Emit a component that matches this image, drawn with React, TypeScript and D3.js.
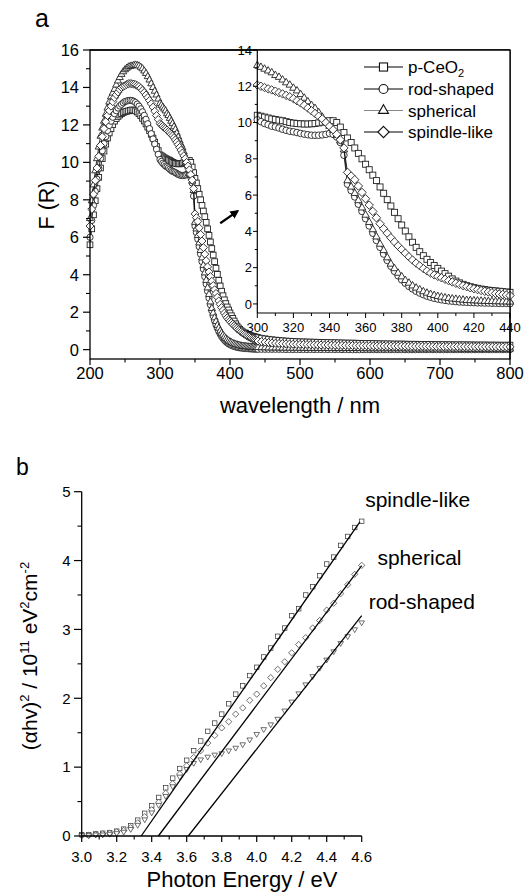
import React from 'react';
import * as d3 from 'd3';

// ---------- Panel a data (wavelength grid, nm) ----------
const WL_SHORT = d3.range(200, 300.1, 2.5); // 200..300
const WL_MID = d3.range(302, 441, 2); // 302..440
const WL_LONG = d3.range(445, 801, 5); // 445..800
const WAVELENGTH = [...WL_SHORT, ...WL_MID, ...WL_LONG];

const PCEO2_SHORT = [5.6, 6.45, 7.2, 7.95, 8.6, 9.2, 9.7, 10.2, 10.6, 10.97, 11.3, 11.57, 11.8, 12.02, 12.2, 12.34, 12.45, 12.53, 12.6, 12.66, 12.7, 12.73, 12.75, 12.78, 12.8, 12.79, 12.75, 12.69, 12.6, 12.49, 12.35, 12.21, 12.05, 11.88, 11.7, 11.5, 11.3, 11.08, 10.85, 10.63, 10.4];
const PCEO2_MID = [10.35, 10.3, 10.25, 10.2, 10.17, 10.13, 10.1, 10.05, 10.0, 9.97,
  9.95, 9.93, 9.92, 9.92, 9.93, 9.95, 9.98, 10.02, 10.06, 10.1,
  10.1, 10.0, 9.75, 9.45, 9.15, 8.9, 8.6, 8.3, 8.0, 7.7,
  7.4, 7.1, 6.8, 6.45, 6.1, 5.75, 5.4, 5.05, 4.7, 4.35,
  4.02, 3.7, 3.4, 3.12, 2.88, 2.66, 2.46, 2.28, 2.12, 1.96,
  1.81, 1.67, 1.53, 1.38, 1.26, 1.16, 1.08, 1.01, 0.95, 0.9,
  0.86, 0.82, 0.79, 0.76, 0.74, 0.72, 0.7, 0.68, 0.66, 0.64];
const PCEO2_LONG = [0.61, 0.58, 0.555, 0.53, 0.51, 0.49, 0.475, 0.46, 0.45, 0.44,
  0.43, 0.42, 0.415, 0.41, 0.405, 0.4, 0.395, 0.39, 0.385, 0.38,
  0.375, 0.37, 0.365, 0.36, 0.355, 0.35, 0.35, 0.345, 0.34, 0.335,
  0.33, 0.33, 0.325, 0.32, 0.315, 0.31, 0.31, 0.305, 0.3, 0.3,
  0.3, 0.295, 0.29, 0.29, 0.29, 0.285, 0.28, 0.28, 0.28, 0.275,
  0.27, 0.27, 0.27, 0.265, 0.265, 0.26, 0.26, 0.26, 0.26, 0.255,
  0.255, 0.25, 0.25, 0.25, 0.25, 0.245, 0.245, 0.245, 0.24, 0.24,
  0.24, 0.24];

const ROD_SHORT = [6.0, 6.9, 7.7, 8.45, 9.1, 9.68, 10.2, 10.62, 11.0, 11.37, 11.7, 11.97, 12.2, 12.41, 12.6, 12.76, 12.9, 13.01, 13.1, 13.18, 13.25, 13.28, 13.3, 13.31, 13.3, 13.26, 13.2, 13.11, 13.0, 12.86, 12.7, 12.51, 12.3, 12.06, 11.8, 11.53, 11.25, 10.98, 10.7, 10.43, 10.15];
const ROD_MID = [10.05, 9.95, 9.88, 9.8, 9.76, 9.7, 9.63, 9.57, 9.52, 9.49,
  9.45, 9.4, 9.36, 9.33, 9.3, 9.3, 9.3, 9.32, 9.35, 9.4,
  9.35, 9.2, 8.9, 8.2, 6.6, 6.25, 5.9, 5.5, 5.1, 4.7,
  4.3, 3.9, 3.5, 3.12, 2.75, 2.4, 2.08, 1.8, 1.55, 1.33,
  1.14, 0.97, 0.83, 0.7, 0.6, 0.51, 0.43, 0.37, 0.31, 0.27,
  0.23, 0.2, 0.17, 0.15, 0.13, 0.11, 0.1, 0.09, 0.08, 0.07,
  0.06, 0.06, 0.05, 0.05, 0.04, 0.04, 0.03, 0.03, 0.03, 0.02];
const ROD_LONG = [0.02, 0.02, 0.02, 0.02, 0.02, 0.02, 0.015, 0.01, 0.01, 0.01,
  0.01, 0.01, 0.01, 0.01, 0.01, 0.01, 0.01, 0.01, 0.01, 0.01,
  0.01, 0.01, 0.01, 0.005, 0.005, 0, 0, 0, 0, 0,
  0, 0, 0, 0, 0, 0, 0, 0, 0, 0,
  0, 0, 0, 0, 0, 0, 0, 0, 0, 0,
  0, 0, 0, 0, 0, 0, 0, 0, 0, 0,
  0, 0, 0, 0, 0, 0, 0, 0, 0, 0,
  0, 0];

const SPH_SHORT = [7.0, 7.95, 8.8, 9.55, 10.2, 10.82, 11.4, 11.83, 12.2, 12.57, 12.9, 13.22, 13.5, 13.7, 13.9, 14.13, 14.35, 14.53, 14.7, 14.84, 14.95, 15.03, 15.1, 15.13, 15.15, 15.18, 15.2, 15.18, 15.15, 15.08, 15.0, 14.88, 14.75, 14.58, 14.4, 14.2, 14.0, 13.8, 13.6, 13.38, 13.15];
const SPH_MID = [13.05, 12.95, 12.85, 12.75, 12.6, 12.5, 12.35, 12.2, 12.07, 11.9,
  11.75, 11.55, 11.35, 11.15, 10.95, 10.78, 10.55, 10.3, 10.05, 9.8,
  9.58, 9.3, 9.0, 8.5, 6.8, 6.45, 6.1, 5.7, 5.3, 4.9,
  4.5, 4.1, 3.7, 3.3, 2.95, 2.55, 2.2, 1.95, 1.7, 1.5,
  1.3, 1.15, 1.0, 0.88, 0.78, 0.68, 0.6, 0.53, 0.47, 0.42,
  0.38, 0.34, 0.31, 0.28, 0.26, 0.24, 0.22, 0.2, 0.19, 0.18,
  0.17, 0.16, 0.15, 0.14, 0.14, 0.13, 0.13, 0.12, 0.12, 0.11];
const SPH_LONG = [0.105, 0.1, 0.095, 0.09, 0.09, 0.09, 0.085, 0.08, 0.08, 0.08,
  0.08, 0.075, 0.075, 0.07, 0.07, 0.07, 0.07, 0.07, 0.07, 0.065,
  0.065, 0.06, 0.06, 0.06, 0.06, 0.06, 0.06, 0.06, 0.06, 0.055,
  0.055, 0.05, 0.05, 0.05, 0.05, 0.05, 0.05, 0.05, 0.05, 0.05,
  0.05, 0.045, 0.045, 0.04, 0.04, 0.04, 0.04, 0.04, 0.04, 0.04,
  0.04, 0.04, 0.04, 0.04, 0.04, 0.035, 0.035, 0.03, 0.03, 0.03,
  0.03, 0.03, 0.03, 0.03, 0.03, 0.03, 0.03, 0.03, 0.03, 0.03,
  0.03, 0.03];

const SPN_SHORT = [6.6, 7.5, 8.3, 9.03, 9.7, 10.32, 10.9, 11.37, 11.8, 12.17, 12.5, 12.76, 13.0, 13.24, 13.45, 13.61, 13.75, 13.89, 14.0, 14.06, 14.1, 14.16, 14.2, 14.21, 14.2, 14.18, 14.15, 14.1, 14.05, 13.96, 13.85, 13.73, 13.6, 13.46, 13.3, 13.13, 12.95, 12.73, 12.5, 12.29, 12.07];
const SPN_MID = [12.0, 11.93, 11.86, 11.8, 11.73, 11.65, 11.58, 11.5, 11.42, 11.32,
  11.2, 11.08, 10.95, 10.8, 10.65, 10.5, 10.35, 10.2, 10.0, 9.8,
  9.6, 9.35, 9.05, 8.6, 7.25, 7.05, 6.85, 6.5, 6.15, 5.8,
  5.45, 5.1, 4.75, 4.42, 4.15, 3.9, 3.65, 3.42, 3.2, 3.0,
  2.8, 2.6, 2.42, 2.25, 2.1, 1.95, 1.82, 1.7, 1.6, 1.52,
  1.44, 1.36, 1.28, 1.21, 1.14, 1.07, 1.01, 0.95, 0.89, 0.84,
  0.79, 0.74, 0.7, 0.66, 0.62, 0.58, 0.55, 0.52, 0.49, 0.46];
const SPN_LONG = [0.43, 0.4, 0.38, 0.36, 0.345, 0.33, 0.32, 0.31, 0.3, 0.29,
  0.285, 0.28, 0.275, 0.27, 0.265, 0.26, 0.255, 0.25, 0.25, 0.245,
  0.24, 0.235, 0.23, 0.23, 0.225, 0.22, 0.22, 0.215, 0.21, 0.21,
  0.21, 0.205, 0.2, 0.2, 0.2, 0.2, 0.195, 0.19, 0.19, 0.19,
  0.19, 0.185, 0.185, 0.18, 0.18, 0.18, 0.18, 0.175, 0.175, 0.175,
  0.17, 0.17, 0.17, 0.17, 0.17, 0.165, 0.165, 0.165, 0.16, 0.16,
  0.16, 0.16, 0.16, 0.155, 0.155, 0.155, 0.155, 0.15, 0.15, 0.15,
  0.15, 0.15];

const SERIES_A = [
  { name: 'p-CeO2', marker: 'square', lineColor: '#000', values: [...PCEO2_SHORT, ...PCEO2_MID, ...PCEO2_LONG] },
  { name: 'rod-shaped', marker: 'circle', lineColor: '#000', values: [...ROD_SHORT, ...ROD_MID, ...ROD_LONG] },
  { name: 'spherical', marker: 'triangle', lineColor: '#888', values: [...SPH_SHORT, ...SPH_MID, ...SPH_LONG] },
  { name: 'spindle-like', marker: 'diamond', lineColor: '#000', values: [...SPN_SHORT, ...SPN_MID, ...SPN_LONG] },
];

const A_XTICKS = [200, 300, 400, 500, 600, 700, 800];
const A_XMINOR = [250, 350, 450, 550, 650, 750];
const A_YTICKS = [0, 2, 4, 6, 8, 10, 12, 14, 16];
const A_YMINOR = [1, 3, 5, 7, 9, 11, 13, 15];
const IN_XTICKS = [300, 320, 340, 360, 380, 400, 420, 440];
const IN_XMINOR = [310, 330, 350, 370, 390, 410, 430];
const IN_YTICKS = [0, 2, 4, 6, 8, 10, 12, 14];
const IN_YMINOR = [1, 3, 5, 7, 9, 11, 13];
const ARROW = { from: [386, 6.75], to: [411, 7.4] };

// ---------- Panel b data (photon energy grid, eV) ----------
const ENERGY = d3.range(0, 41).map((i) => 3 + i * 0.04);
const SPN_B = [0.02, 0.02, 0.03, 0.04, 0.05, 0.07, 0.1, 0.15, 0.23, 0.33,
  0.44, 0.56, 0.7, 0.84, 0.98, 1.1, 1.24, 1.38, 1.52, 1.64,
  1.77, 1.92, 2.06, 2.18, 2.33, 2.45, 2.6, 2.73, 2.9, 3.02,
  3.2, 3.3, 3.5, 3.62, 3.78, 3.95, 4.05, 4.22, 4.35, 4.48, 4.57];
const SPH_B = [0.01, 0.01, 0.02, 0.03, 0.04, 0.06, 0.08, 0.12, 0.19, 0.28,
  0.38, 0.49, 0.62, 0.76, 0.9, 1.02, 1.14, 1.24, 1.35, 1.46,
  1.57, 1.66, 1.77, 1.86, 1.97, 2.06, 2.18, 2.3, 2.42, 2.53,
  2.66, 2.78, 2.88, 3.02, 3.13, 3.28, 3.38, 3.52, 3.65, 3.8, 3.93];
const ROD_B = [0.01, 0.01, 0.02, 0.02, 0.03, 0.04, 0.06, 0.1, 0.16, 0.24,
  0.34, 0.45, 0.58, 0.72, 0.86, 0.97, 1.06, 1.11, 1.15, 1.18,
  1.2, 1.24, 1.28, 1.33, 1.4, 1.48, 1.55, 1.62, 1.7, 1.82,
  1.95, 2.07, 2.2, 2.32, 2.44, 2.56, 2.68, 2.8, 2.9, 3.0, 3.1];
const B_NAMES = ['spindle-like', 'spherical', 'rod-shaped'];
const B_MARKERS = ['square', 'diamond', 'triangleDown'];
const B_VALUES = [SPN_B, SPH_B, ROD_B];
const FIT_ONSET = [3.34, 3.438, 3.609];
const FIT_SLOPE = [3.65, 3.38, 3.23];
const FIT_END = [4.59, 4.6, 4.6];
const B_LABEL_POS = [[4.62, 4.78], [4.69, 3.94], [4.64, 3.29]];
const B_XTICKS = [3.0, 3.2, 3.4, 3.6, 3.8, 4.0, 4.2, 4.4, 4.6];
const B_XMINOR = [3.1, 3.3, 3.5, 3.7, 3.9, 4.1, 4.3, 4.5];
const B_YTICKS = [0, 1, 2, 3, 4, 5];
const B_YMINOR = [0.5, 1.5, 2.5, 3.5, 4.5];

const FONT = 'Liberation Sans, Arial, Helvetica, sans-serif';

function Marker({ type, x, y, s = 1, stroke = '#222', sw = 0.9, fill = '#fff' }) {
  const common = { stroke, strokeWidth: sw, fill };
  if (type === 'square') {
    const h = 3 * s;
    return <rect x={x - h} y={y - h} width={2 * h} height={2 * h} {...common} />;
  }
  if (type === 'circle') return <circle cx={x} cy={y} r={3.3 * s} {...common} />;
  if (type === 'triangle') {
    const r = 4.3 * s;
    return <polygon points={`${x},${y - r} ${x + r * 0.866},${y + r * 0.5} ${x - r * 0.866},${y + r * 0.5}`} {...common} />;
  }
  if (type === 'triangleDown') {
    const r = 4.3 * s;
    return <polygon points={`${x},${y + r} ${x + r * 0.866},${y - r * 0.5} ${x - r * 0.866},${y - r * 0.5}`} {...common} />;
  }
  const r = 4.2 * s;
  return <polygon points={`${x},${y - r} ${x + r},${y} ${x},${y + r} ${x - r},${y}`} {...common} />;
}

export default function App() {
  // Panel a scales
  const ax = d3.scaleLinear().domain([200, 800]).range([90, 510]);
  const ay = d3.scaleLinear().domain([-0.5, 16]).range([359, 50]);
  const ix = d3.scaleLinear().domain([300, 440]).range([257.3, 510]);
  const iy = d3.scaleLinear().domain([-0.5, 14]).range([313, 50]);
  // Panel b scales
  const bx = d3.scaleLinear().domain([3.0, 4.6]).range([81.7, 361.7]);
  const by = d3.scaleLinear().domain([0, 5]).range([836, 491.7]);

  const mainLine = d3.line<number>().x((_, i) => ax(WAVELENGTH[i])).y((v) => ay(v));
  const insetIdx = WAVELENGTH.map((w, i) => i).filter((i) => WAVELENGTH[i] >= 300 && WAVELENGTH[i] <= 440);
  const insetLine = d3.line<number>().x((i) => ix(WAVELENGTH[i]));

  const legendRows = [67, 89, 110.5, 132];

  return (
    <svg width={527} height={892} style={{ position: 'absolute', left: 0, top: 0, background: '#fff' }} fontFamily={FONT}>
      <defs>
        <marker id="arrowHead" viewBox="0 0 10 10" refX="8" refY="5" markerWidth="4" markerHeight="4" orient="auto">
          <path d="M0,0 L10,5 L0,10 z" fill="#000" />
        </marker>
      </defs>
      <rect x={0} y={0} width={527} height={892} fill="#fff" />

      {/* ===== Panel a ===== */}
      <text x={35} y={27} fontSize={25}>a</text>

      {/* main series */}
      {SERIES_A.map((s) => (
        <g key={'m' + s.name}>
          <path d={mainLine(s.values) || ''} fill="none" stroke="#000" strokeWidth={0.8} />
          {s.values.map((v, i) => (
            <Marker key={i} type={s.marker} x={ax(WAVELENGTH[i])} y={ay(v)} s={0.95} />
          ))}
        </g>
      ))}

      {/* main frame */}
      <rect x={90} y={50} width={420} height={309} fill="none" stroke="#000" strokeWidth={1.3} />
      {A_XTICKS.map((t) => (
        <g key={'ax' + t}>
          <line x1={ax(t)} x2={ax(t)} y1={359} y2={365} stroke="#000" strokeWidth={1.2} />
          <text x={ax(t)} y={379} fontSize={16.5} textAnchor="middle">{t}</text>
        </g>
      ))}
      {A_XMINOR.map((t) => (
        <line key={'axm' + t} x1={ax(t)} x2={ax(t)} y1={359} y2={362.5} stroke="#000" strokeWidth={1.1} />
      ))}
      {A_YTICKS.map((t) => (
        <g key={'ay' + t}>
          <line x1={83} x2={90} y1={ay(t)} y2={ay(t)} stroke="#000" strokeWidth={1.2} />
          <text x={79} y={ay(t) + 6} fontSize={16.5} textAnchor="end">{t}</text>
        </g>
      ))}
      {A_YMINOR.map((t) => (
        <line key={'aym' + t} x1={86} x2={90} y1={ay(t)} y2={ay(t)} stroke="#000" strokeWidth={1.1} />
      ))}
      <text x={300} y={413} fontSize={22} textAnchor="middle">wavelength / nm</text>
      <text transform="translate(54,205) rotate(-90)" fontSize={21.5} textAnchor="middle">F (R)</text>

      {/* arrow */}
      <line x1={ax(ARROW.from[0])} y1={ay(ARROW.from[1])} x2={ax(ARROW.to[0])} y2={ay(ARROW.to[1])}
        stroke="#000" strokeWidth={2.2} markerEnd="url(#arrowHead)" />

      {/* inset */}
      <rect x={257.3} y={50} width={252.7} height={263} fill="#fff" />
      {SERIES_A.map((s) => (
        <g key={'i' + s.name}>
          <path d={insetLine.y((i) => iy(s.values[i]))(insetIdx) || ''} fill="none" stroke="#000" strokeWidth={0.8} />
          {insetIdx.map((i) => (
            <Marker key={i} type={s.marker} x={ix(WAVELENGTH[i])} y={iy(s.values[i])} s={1} />
          ))}
        </g>
      ))}
      <line x1={257.3} x2={257.3} y1={50} y2={313} stroke="#000" strokeWidth={1.2} />
      <line x1={257.3} x2={510} y1={313} y2={313} stroke="#000" strokeWidth={1.2} />
      <line x1={90} x2={510} y1={50} y2={50} stroke="#000" strokeWidth={1.3} />
      <line x1={510} x2={510} y1={50} y2={359} stroke="#000" strokeWidth={1.3} />
      {IN_XTICKS.map((t) => (
        <g key={'ix' + t}>
          <line x1={ix(t)} x2={ix(t)} y1={313} y2={318} stroke="#000" strokeWidth={1} />
          <text x={ix(t)} y={332} fontSize={13} textAnchor="middle">{t}</text>
        </g>
      ))}
      {IN_XMINOR.map((t) => (
        <line key={'ixm' + t} x1={ix(t)} x2={ix(t)} y1={313} y2={316} stroke="#000" strokeWidth={1} />
      ))}
      {IN_YTICKS.map((t) => (
        <g key={'iy' + t}>
          <line x1={253} x2={257.3} y1={iy(t)} y2={iy(t)} stroke="#000" strokeWidth={1} />
          <text x={252} y={iy(t) + 4.6} fontSize={13} textAnchor="end">{t}</text>
        </g>
      ))}
      {IN_YMINOR.map((t) => (
        <line key={'iym' + t} x1={254.8} x2={257.3} y1={iy(t)} y2={iy(t)} stroke="#000" strokeWidth={1} />
      ))}

      {/* legend */}
      {SERIES_A.map((s, k) => (
        <g key={'lg' + s.name}>
          <line x1={364} x2={403} y1={legendRows[k]} y2={legendRows[k]} stroke={s.lineColor} strokeWidth={1.1} />
          <Marker type={s.marker} x={383.5} y={legendRows[k]} s={1.35} stroke="#111" sw={1.1} />
          {k === 0 ? (
            <text x={408} y={legendRows[k] + 6} fontSize={17}>p-CeO<tspan dy={4} fontSize={11}>2</tspan></text>
          ) : (
            <text x={408} y={legendRows[k] + 6} fontSize={17}>{s.name}</text>
          )}
        </g>
      ))}

      {/* ===== Panel b ===== */}
      <text x={16} y={475} fontSize={23}>b</text>
      {B_VALUES.map((vals, k) => (
        <g key={'b' + k}>
          {vals.map((v, i) => (
            <Marker key={i} type={B_MARKERS[k]} x={bx(ENERGY[i])} y={by(v)} s={0.75} sw={0.7} stroke="#333" />
          ))}
        </g>
      ))}
      {FIT_ONSET.map((e0, k) => (
        <line key={'fit' + k} x1={bx(e0)} y1={by(0)} x2={bx(FIT_END[k])} y2={by(FIT_SLOPE[k] * (FIT_END[k] - e0))}
          stroke="#000" strokeWidth={1.3} />
      ))}
      {B_NAMES.map((n, k) => (
        <text key={'bl' + n} x={bx(B_LABEL_POS[k][0])} y={by(B_LABEL_POS[k][1])} fontSize={21}>{n}</text>
      ))}
      <line x1={81.7} x2={81.7} y1={491.7} y2={836} stroke="#000" strokeWidth={1.3} />
      <line x1={81.7} x2={361.7} y1={836} y2={836} stroke="#000" strokeWidth={1.3} />
      {B_XTICKS.map((t) => (
        <g key={'bx' + t}>
          <line x1={bx(t)} x2={bx(t)} y1={836} y2={842} stroke="#000" strokeWidth={1.2} />
          <text x={bx(t)} y={861.5} fontSize={15} textAnchor="middle">{t.toFixed(1)}</text>
        </g>
      ))}
      {B_XMINOR.map((t) => (
        <line key={'bxm' + t} x1={bx(t)} x2={bx(t)} y1={836} y2={839.5} stroke="#000" strokeWidth={1.1} />
      ))}
      {B_YTICKS.map((t) => (
        <g key={'by' + t}>
          <line x1={74} x2={81.7} y1={by(t)} y2={by(t)} stroke="#000" strokeWidth={1.2} />
          <text x={70.5} y={by(t) + 5.3} fontSize={15} textAnchor="end">{t}</text>
        </g>
      ))}
      {B_YMINOR.map((t) => (
        <line key={'bym' + t} x1={77.5} x2={81.7} y1={by(t)} y2={by(t)} stroke="#000" strokeWidth={1.1} />
      ))}
      <text x={242} y={887} fontSize={22} textAnchor="middle">Photon Energy / eV</text>
      <text transform="translate(37,656) rotate(-90)" fontSize={21} textAnchor="middle">
        (αhv)<tspan dy={-8} fontSize={13}>2</tspan>
        <tspan dy={8}> / 10</tspan><tspan dy={-8} fontSize={13}>11</tspan>
        <tspan dy={8}> eV</tspan><tspan dy={-8} fontSize={13}>2</tspan>
        <tspan dy={8}>cm</tspan><tspan dy={-8} fontSize={13}>-2</tspan>
      </text>
    </svg>
  );
}
